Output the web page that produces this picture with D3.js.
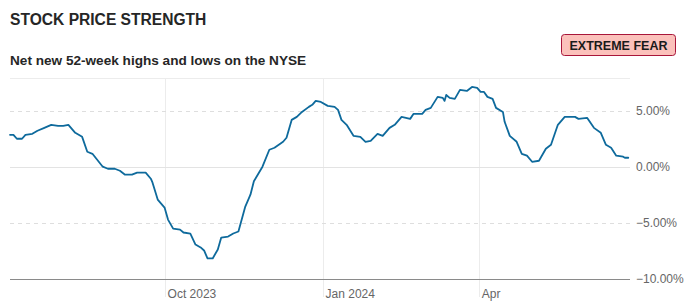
<!DOCTYPE html>
<html>
<head>
<meta charset="utf-8">
<script src="https://cdn.jsdelivr.net/npm/d3@7/dist/d3.min.js"></script>
<style>
  html, body { margin: 0; padding: 0; background: #fff; }
  svg { display: block; font-family: "Liberation Sans", Arial, Helvetica, sans-serif; }
</style>
</head>
<body>
<svg id="chart" width="693" height="303"></svg>
<script>
// ---- data ----
const title = "STOCK PRICE STRENGTH";
const subtitle = "Net new 52-week highs and lows on the NYSE";
const badgeLabel = "EXTREME FEAR";
const dates = [
  "2023-07-03","2023-07-05","2023-07-07","2023-07-10","2023-07-12","2023-07-16","2023-07-19","2023-07-23","2023-07-27","2023-07-31",
  "2023-08-03","2023-08-06","2023-08-10","2023-08-14","2023-08-17","2023-08-20","2023-08-26","2023-08-29","2023-09-02","2023-09-05",
  "2023-09-08","2023-09-12","2023-09-15","2023-09-20","2023-09-23","2023-09-24","2023-09-27","2023-10-01","2023-10-03","2023-10-06",
  "2023-10-10","2023-10-12","2023-10-16","2023-10-19","2023-10-22","2023-10-24","2023-10-26","2023-10-29","2023-11-01","2023-11-03",
  "2023-11-07","2023-11-10","2023-11-13","2023-11-17","2023-11-20","2023-11-22","2023-11-27","2023-12-01","2023-12-04","2023-12-09",
  "2023-12-11","2023-12-14","2023-12-17","2023-12-20","2023-12-24","2023-12-26","2023-12-28","2023-12-31","2024-01-04","2024-01-08",
  "2024-01-10","2024-01-12","2024-01-15","2024-01-19","2024-01-23","2024-01-26","2024-01-29","2024-02-02","2024-02-05","2024-02-09",
  "2024-02-12","2024-02-16","2024-02-21","2024-02-23","2024-02-28","2024-03-01","2024-03-04","2024-03-08","2024-03-11","2024-03-12",
  "2024-03-13","2024-03-15","2024-03-18","2024-03-21","2024-03-25","2024-03-28","2024-03-31","2024-04-02","2024-04-04","2024-04-06",
  "2024-04-09","2024-04-11","2024-04-15","2024-04-16","2024-04-19","2024-04-23","2024-04-26","2024-04-29","2024-05-02","2024-05-06",
  "2024-05-10","2024-05-13","2024-05-17","2024-05-21","2024-05-27","2024-05-29","2024-06-03","2024-06-07","2024-06-11","2024-06-14",
  "2024-06-17","2024-06-20","2024-06-24","2024-06-25","2024-06-27"
];
const values = [
  2.84,2.84,2.49,2.49,2.84,2.93,3.20,3.46,3.73,3.64,
  3.64,3.73,3.02,2.66,1.33,1.15,0.00,-0.18,-0.18,-0.36,
  -0.71,-0.71,-0.53,-0.53,-1.07,-1.42,-2.93,-3.64,-4.71,-5.51,
  -5.60,-5.86,-5.95,-6.93,-7.19,-7.46,-8.17,-8.17,-7.37,-6.31,
  -6.22,-5.95,-5.77,-3.55,-2.49,-1.30,0.00,1.51,1.69,2.22,
  2.58,4.17,4.44,4.88,5.33,5.51,5.86,5.77,5.42,5.33,
  5.06,4.17,3.73,2.75,2.66,2.22,2.31,2.93,2.75,3.46,
  3.73,4.44,4.26,4.71,4.71,5.06,5.24,6.22,6.13,5.86,
  6.39,6.13,6.04,6.84,6.75,7.10,7.02,6.66,6.66,6.22,
  6.04,5.24,4.88,4.00,2.75,2.22,1.15,0.98,0.44,0.53,
  1.60,1.95,3.73,4.44,4.44,4.26,4.35,3.46,3.02,1.95,
  1.69,0.98,0.89,0.80,0.80
];
const yTickValues = [-10, -5, 0, 5];
const xTickDates = ["2023-10-01", "2024-01-01", "2024-04-01"];
const xTickLabels = ["Oct 2023", "Jan 2024", "Apr"];
const xDomain = ["2023-07-03", "2024-06-28"];
const yDomain = [-10, 7.9];

// ---- chart ----
const parse = d3.utcParse("%Y-%m-%d");
const data = dates.map((d, i) => ({ date: parse(d), value: values[i] }));

const svg = d3.select("#chart");
const pLeft = 10, pRight = 630, pTop = 78, pBottom = 279;

const x = d3.scaleUtc().domain(xDomain.map(parse)).range([pLeft, pRight]);
const y = d3.scaleLinear().domain(yDomain).range([pBottom, pTop]);

// title
svg.append("text").attr("x", 10).attr("y", 25)
  .attr("font-size", 15.6).attr("font-weight", 700).attr("fill", "#262626")
  .text(title);
svg.append("text").attr("x", 10).attr("y", 65)
  .attr("font-size", 13.6).attr("font-weight", 700).attr("fill", "#262626")
  .text(subtitle);

// badge
const badge = svg.append("g");
badge.append("rect").attr("x", 561.5).attr("y", 34.5).attr("width", 114).attr("height", 21)
  .attr("rx", 3).attr("fill", "#fbc1bb").attr("stroke", "#a8163a").attr("stroke-width", 1);
badge.append("text").attr("x", 618.5).attr("y", 49.5).attr("text-anchor", "middle")
  .attr("font-size", 12.5).attr("font-weight", 700).attr("fill", "#1a1a1a")
  .text(badgeLabel);

// vertical gridlines
const xt = xTickDates.map(parse);
svg.append("g").selectAll("line").data(xt).join("line")
  .attr("x1", d => Math.round(x(d)) + 0.5).attr("x2", d => Math.round(x(d)) + 0.5)
  .attr("y1", pTop).attr("y2", 297)
  .attr("stroke", "#ececec").attr("stroke-width", 1);

// top line
svg.append("line").attr("x1", pLeft).attr("x2", pRight)
  .attr("y1", Math.round(y(yDomain[1])) + 0.5).attr("y2", Math.round(y(yDomain[1])) + 0.5)
  .attr("stroke", "#ececec");

// horizontal gridlines + labels
const yAxis = d3.axisRight(y).tickValues(yTickValues)
  .tickSize(0).tickPadding(0)
  .tickFormat(d => d3.format(".2f")(d) + "%");
const ya = svg.append("g").attr("transform", `translate(${pRight + 6},0)`).call(yAxis);
ya.select(".domain").remove();
ya.selectAll("text").attr("font-size", 12).attr("fill", "#666")
  .attr("font-family", "'Liberation Sans', Arial, sans-serif");

svg.append("g").selectAll("line").data(yTickValues).join("line")
  .attr("x1", pLeft).attr("x2", pRight)
  .attr("y1", d => Math.round(y(d)) + 0.5).attr("y2", d => Math.round(y(d)) + 0.5)
  .attr("stroke", d => d === -10 ? "#8a8a8a" : (d === 0 ? "#e3e3e3" : "#dedede"))
  .attr("stroke-dasharray", d => (d === 5 || d === -5) ? "4,4" : null)
  .attr("stroke-width", 1);

// x labels
svg.append("g").selectAll("text").data(xt).join("text")
  .attr("x", d => x(d) + 3).attr("y", 298)
  .attr("font-size", 12).attr("fill", "#666")
  .text((d, i) => xTickLabels[i]);

// line
const line = d3.line().x(d => x(d.date)).y(d => y(d.value)).curve(d3.curveLinear);
svg.append("path").datum(data).attr("d", line)
  .attr("fill", "none").attr("stroke", "#0e6a9c").attr("stroke-width", 1.8)
  .attr("stroke-linejoin", "round").attr("stroke-linecap", "round");
</script>
</body>
</html>
